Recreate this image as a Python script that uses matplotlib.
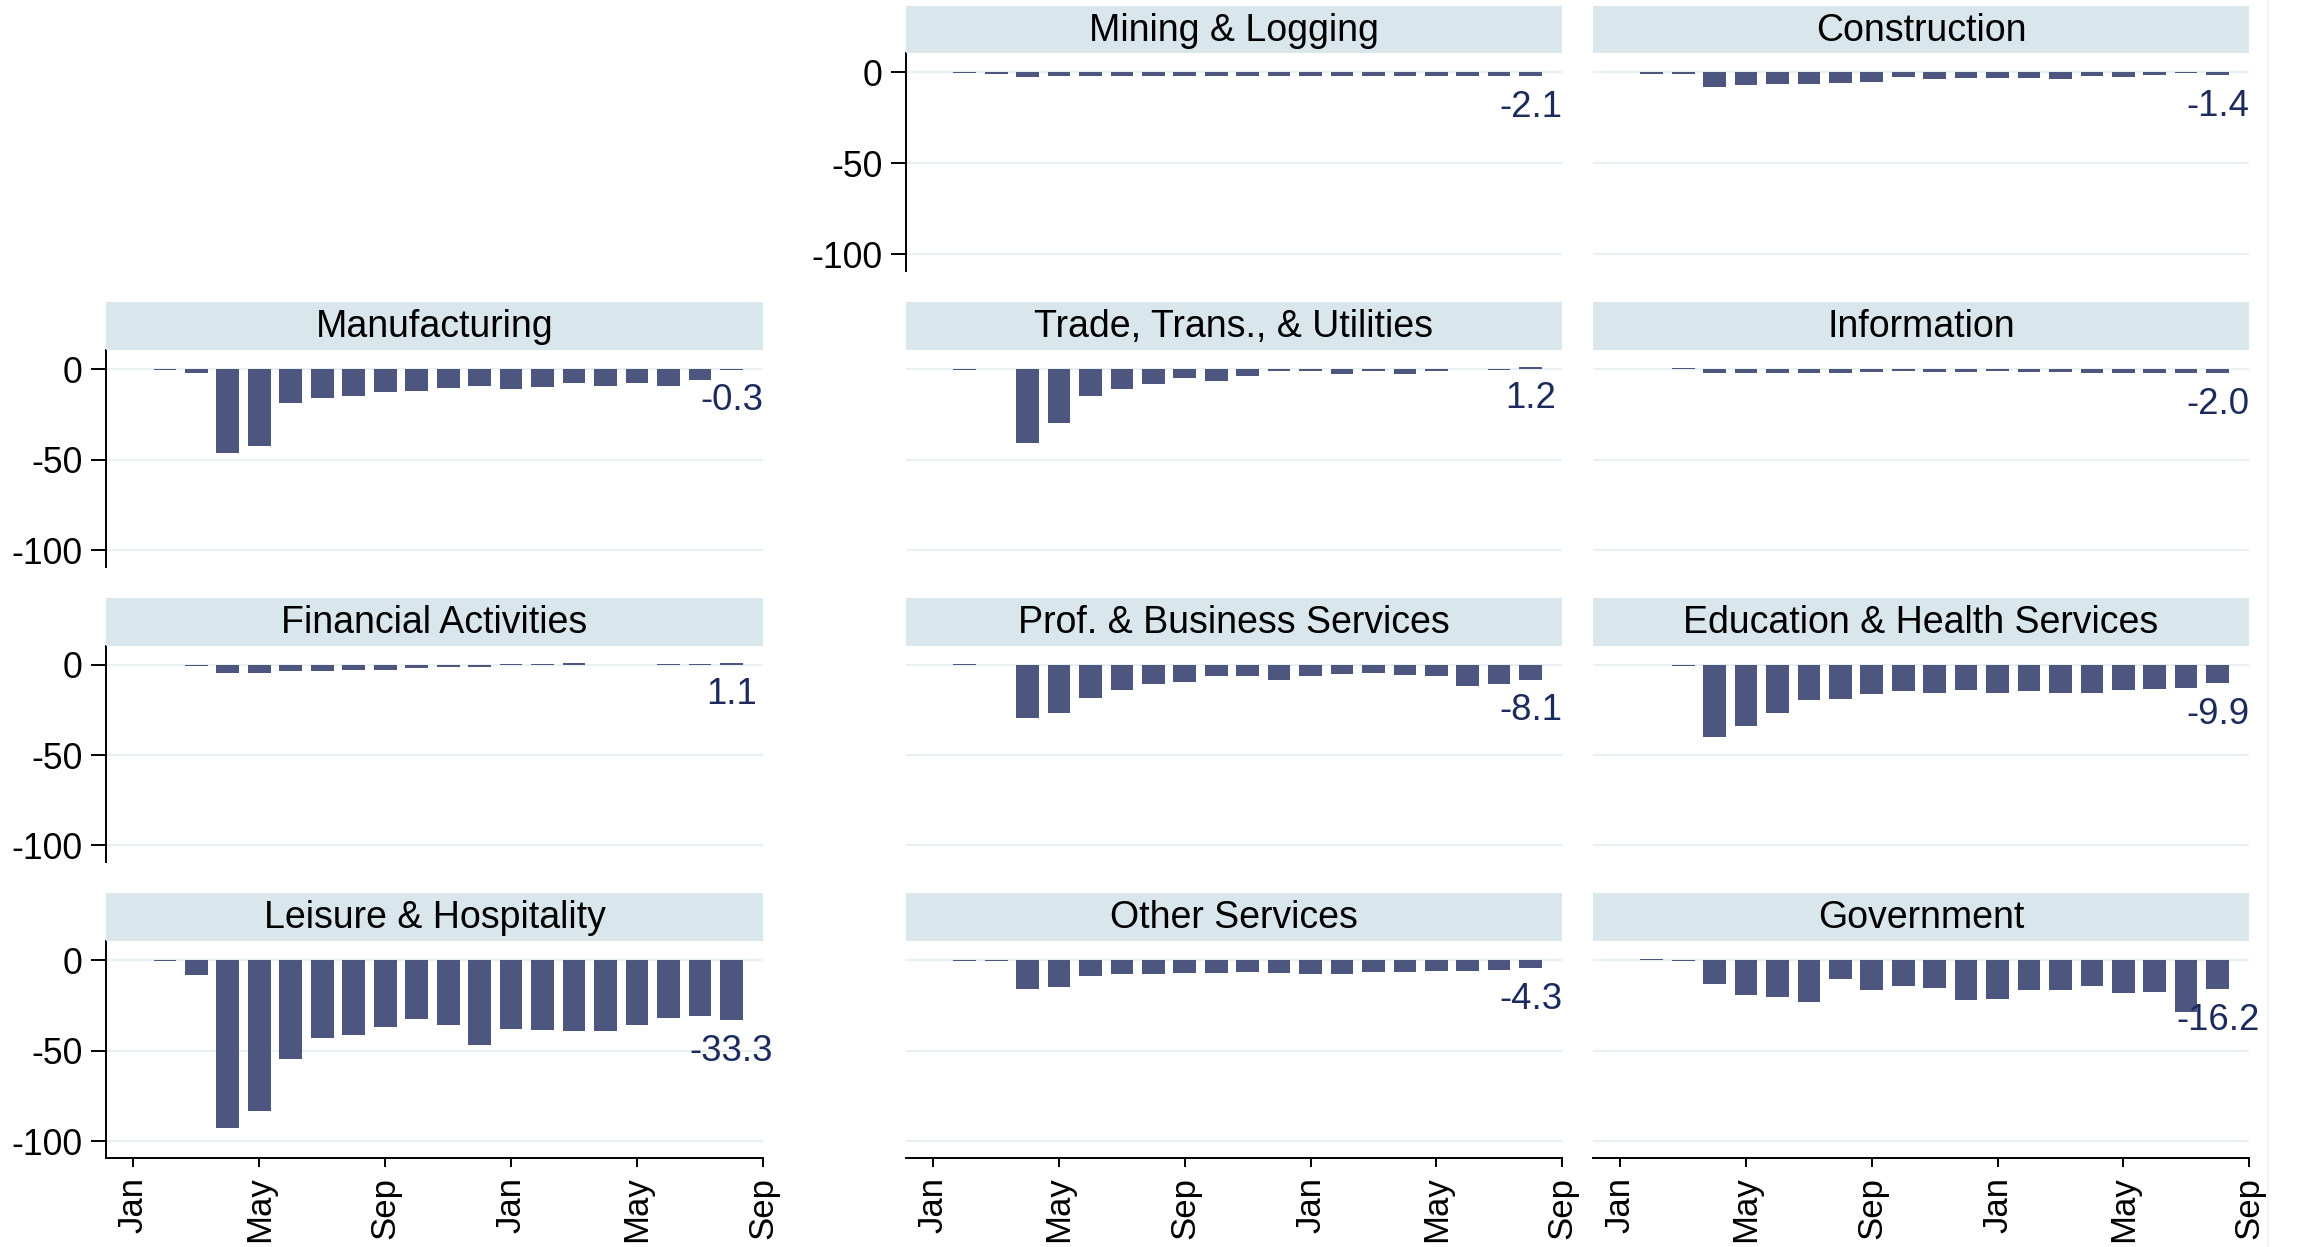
import matplotlib
matplotlib.use("Agg")
import matplotlib.pyplot as plt
from matplotlib.lines import Line2D

plt.rcParams['font.family'] = ['Liberation Sans', 'DejaVu Sans']
plt.rcParams['axes.unicode_minus'] = False

# ---- data (month index: 0 = Jan 2020; bars Feb 2020 .. Aug 2021) ----
months = list(range(1, 20))
tick_pos = [0, 4, 8, 12, 16, 20]
tick_labels = ["Jan", "May", "Sep", "Jan", "May", "Sep"]
y_ticks = [0, -50, -100]
y_tick_labels = ["0", "-50", "-100"]

mining = [-0.3, -1.1, -2.9, -2.3, -2.3, -2.3, -2.3, -2.3, -2.3, -2.3,
          -2.3, -2.3, -2.3, -2.3, -2.3, -2.3, -2.3, -2.3, -2.1]
construction = [-1.1, -1.1, -8.4, -7.3, -6.8, -6.8, -6.2, -5.7, -2.9, -4.0,
                -3.5, -3.5, -3.5, -4.0, -2.4, -2.9, -1.8, -0.7, -1.4]
manufacturing = [-0.4, -2.2, -46.3, -42.5, -18.8, -16.0, -14.9, -12.7, -12.1, -10.5,
                 -9.4, -11.0, -9.9, -7.7, -9.4, -7.7, -9.4, -6.1, -0.3]
trade = [-0.3, 0.0, -41.0, -29.9, -14.9, -11.1, -8.3, -5.0, -6.6, -3.9,
         -0.9, -0.9, -2.6, -0.9, -2.6, -0.9, -0.1, -0.3, 1.2]
information = [0.0, 0.3, -2.0, -2.0, -2.0, -2.0, -2.0, -1.5, -0.9, -1.5,
               -1.5, -0.9, -1.5, -1.5, -2.0, -2.0, -2.0, -2.0, -2.0]
financial = [-0.3, -0.6, -4.2, -4.2, -3.3, -3.3, -2.8, -2.8, -1.7, -0.9,
             -0.9, 0.6, 0.6, 1.3, -0.3, -0.3, 0.5, 0.5, 1.1]
prof_business = [0.3, -0.3, -29.6, -26.5, -18.6, -13.8, -10.5, -9.2, -6.4, -6.1,
                 -8.1, -6.1, -5.0, -4.2, -5.5, -6.1, -11.6, -10.5, -8.1]
education = [-0.3, -0.6, -40.1, -33.6, -26.5, -19.7, -18.8, -16.0, -14.7, -15.4,
             -13.8, -15.4, -14.7, -15.4, -15.4, -13.8, -13.2, -12.7, -9.9]
leisure = [-0.3, -8.3, -93.0, -83.4, -54.8, -43.2, -41.5, -37.1, -32.7, -36.0,
           -46.9, -38.2, -38.7, -39.3, -39.3, -36.0, -32.1, -31.0, -33.3]
other_services = [-0.3, -0.3, -16.0, -14.9, -8.9, -7.7, -7.7, -7.2, -7.2, -6.6,
                  -7.2, -7.7, -7.7, -6.6, -6.6, -6.1, -6.1, -5.5, -4.3]
government = [0.6, -0.3, -13.1, -19.2, -20.3, -23.1, -10.3, -16.4, -14.2, -15.3,
              -22.0, -21.4, -16.4, -16.4, -14.2, -18.1, -17.5, -28.6, -16.2]

titles = ["Mining & Logging", "Construction", "Manufacturing",
          "Trade, Trans., & Utilities", "Information", "Financial Activities",
          "Prof. & Business Services", "Education & Health Services",
          "Leisure & Hospitality", "Other Services", "Government"]
series = [mining, construction, manufacturing, trade, information, financial,
          prof_business, education, leisure, other_services, government]
cells = [(0, 1), (0, 2), (1, 0), (1, 1), (1, 2), (2, 0), (2, 1), (2, 2),
         (3, 0), (3, 1), (3, 2)]

# ---- style / layout ----
W, H = 2300, 1247
BAR = "#4C567E"
LABEL = "#1C2B5E"
STRIP = "#D9E6EB"
GRID = "#EAF1F3"

col_x = [(106, 763), (906, 1562), (1593, 2249)]
row_y = [(53, 271), (350, 567), (646, 862), (941, 1158)]
strip_top = [6, 302, 598, 893]

fig = plt.figure(figsize=(W / 100, H / 100), dpi=100)
fig.patch.set_facecolor("white")

for title, vals, (r, c) in zip(titles, series, cells):
    x0, x1 = col_x[c]
    y0, y1 = row_y[r]
    ax = fig.add_axes([x0 / W, 1 - y1 / H, (x1 - x0) / W, (y1 - y0) / H])
    ax.set_xlim(-0.87, 20.0)
    ax.set_ylim(-109.3, 10.5)
    for yv in y_ticks:
        ax.axhline(yv, color=GRID, lw=1.6, zorder=0)
    ax.bar(months, vals, width=0.72, color=BAR, zorder=2, linewidth=0)
    last = vals[-1]
    ax.annotate(f"{last:.1f}", xy=(months[-1], last), xytext=(0, -10),
                textcoords="offset points", ha="center", va="top",
                fontsize=26.3, color=LABEL, zorder=3, annotation_clip=False)
    for s in ["top", "right"]:
        ax.spines[s].set_visible(False)
    first_in_row = (c == 0) or (r == 0 and c == 1)
    if first_in_row:
        ax.spines["left"].set_linewidth(1.4)
        ax.set_yticks(y_ticks)
        ax.set_yticklabels(y_tick_labels)
        ax.tick_params(axis="y", length=11, width=1.4, labelsize=25.6, pad=6)
    else:
        ax.spines["left"].set_visible(False)
        ax.set_yticks([])
    if r == 3:
        ax.spines["bottom"].set_linewidth(1.4)
        ax.set_xticks(tick_pos)
        ax.set_xticklabels(tick_labels, rotation=90, ha="center", va="top")
        ax.tick_params(axis="x", length=6.5, width=1.4, labelsize=25, pad=7)
    else:
        ax.spines["bottom"].set_visible(False)
        ax.set_xticks([])
    ax.set_facecolor("none")

    # title strip
    st = strip_top[r]
    sax = fig.add_axes([x0 / W, 1 - y0 / H, (x1 - x0) / W, (y0 - st) / H])
    sax.set_facecolor(STRIP)
    for s in sax.spines.values():
        s.set_visible(False)
    sax.set_xticks([])
    sax.set_yticks([])
    sax.text(0.5, 0.47, title, ha="center", va="center", fontsize=27,
             color="black", transform=sax.transAxes)

# faint outer border at right
fig.add_artist(Line2D([2268 / W, 2268 / W], [0, 1], color="#EEF4F6", lw=1.2,
                      transform=fig.transFigure))

fig.savefig("out.png", dpi=100, facecolor="white")
